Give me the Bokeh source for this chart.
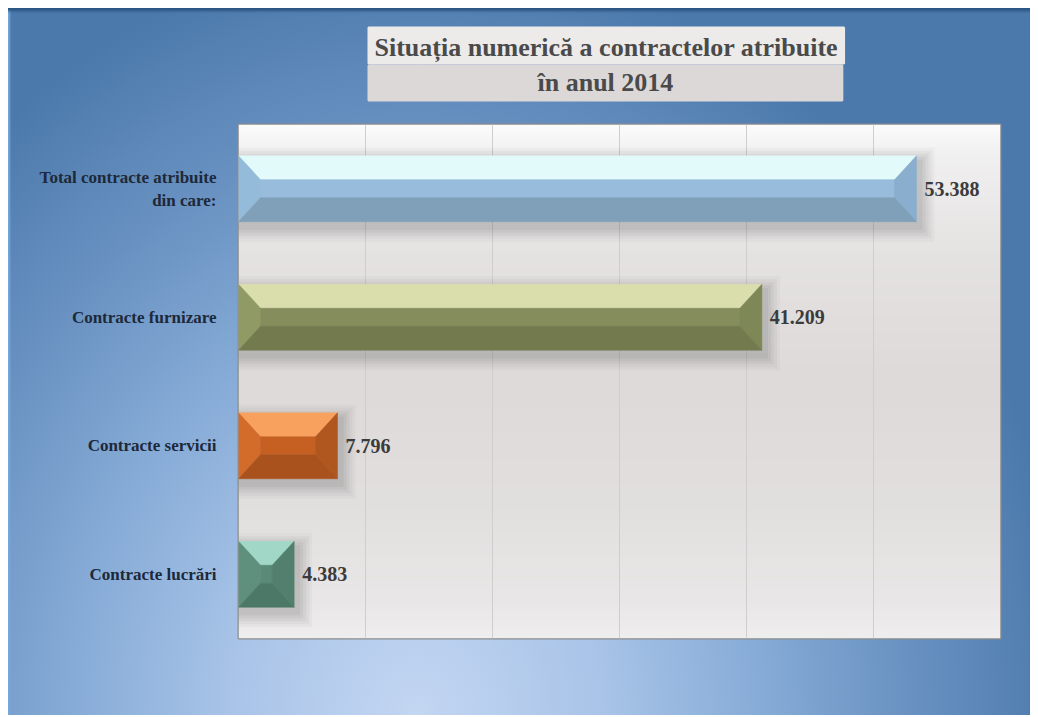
import numpy as np
from bokeh.plotting import figure
from bokeh.models import Range1d, FixedTicker, Title
from bokeh.embed import file_html
from bokeh.resources import INLINE
from bokeh.core.properties import value

# ---------------- data ----------------
categories = ["Total contracte atribuite\ndin care:", "Contracte furnizare",
              "Contracte servicii", "Contracte lucrări"]
counts = [53388, 41209, 7796, 4383]
title_lines = ["Situația numerică a contractelor atribuite", "în anul 2014"]
x_ticks = [0, 10000, 20000, 30000, 40000, 50000, 60000]

# bevel face colours per bar: top, left, front, right, bottom
face_colors = [
    ("#e3fafb", "#95bbdb", "#97bcdc", "#8aaecd", "#809fb8"),
    ("#d9deac", "#8f9a65", "#858d5c", "#7e8756", "#737a4e"),
    ("#f8a05e", "#d36b2b", "#c55f22", "#b0561f", "#aa521d"),
    ("#a0d7c7", "#5f8f7d", "#5a8a78", "#527f6e", "#4c7867"),
]

# ---------------- geometry (layout) ----------------
W, H = 1022, 707
BL, BR, BT, BB = 230, 30, 116, 77
FW, FH = W - BL - BR, H - BT - BB
XMAX = x_ticks[-1]
Y0, Y1 = 0.5, len(categories) + 0.5
ux = XMAX / FW            # data units per px (x)
uy = (Y1 - Y0) / FH       # data units per px (y)
bx, by, hh = 22 * ux, 24 * uy, 33 * uy

serif = "Liberation Serif"

p = figure(width=W, height=H, output_backend="svg", toolbar_location=None,
           title=None,
           x_range=Range1d(0, XMAX), y_range=Range1d(Y0, Y1),
           min_border_left=BL, min_border_right=BR,
           min_border_top=BT, min_border_bottom=BB)

p.border_fill_alpha = 0
p.styles = {
    "margin-left": "8px",
    "margin-top": "8px",
    "background": "radial-gradient(ellipse 64% 108% at 40% 100%, #c3d6f2 0%, #a9c4e8 28%, #87acd7 52%, #6891c1 76%, #4b79ab 100%)",
    "box-shadow": "inset 0 5px 3px -2px #2b5482, inset 4px 0 2px -2px #7aa9de",
}

# nearly invisible spacer between frame and title box
p.add_layout(Title(text=".", text_font_size="2px", text_color="#6f96c4",
                   text_alpha=0.02, standoff=21), "above")

# title: two stacked boxes (second line added first -> nearest the frame)
box_w = 475
line_w = [462, 136]
box_cols = ["#edeaea", "#dcd8d7"]
pads_tb = [(5, 2), (2, 4)]
for i in (1, 0):
    pad = max(0, (box_w - line_w[i]) // 2)
    t = Title(text=title_lines[i], align="left", offset=130,
              text_font=serif, text_font_style="bold", text_font_size="26px",
              text_color="#4a4a4a", background_fill_color=box_cols[i],
              border_line_color=box_cols[i], border_line_width=2,
              padding={"left": pad, "right": pad, "top": pads_tb[i][0],
                       "bottom": pads_tb[i][1]},
              standoff=0)
    p.add_layout(t, "above")

# frame background gradient
p.background_fill_color = "#e3e0df"
p.outline_line_color = "#8c8c8c"
p.outline_line_width = 2
stops_pos = [0.0, 0.06, 0.25, 0.5, 0.75, 0.93, 1.0]   # from top
stops_col = ["#fbfbfb", "#f1f0f0", "#e5e2e2", "#dedad9", "#e2dfdf", "#e9e7e7", "#efeeee"]
N = 200
tt = np.linspace(1, 0, N)  # row 0 = bottom
def _rgb(h):
    return [int(h[i:i + 2], 16) for i in (1, 3, 5)]
cols = np.array([_rgb(c) for c in stops_col], dtype=float)
img = np.zeros((N, 2), dtype=np.uint32)
view = img.view(dtype=np.uint8).reshape((N, 2, 4))
for k in range(3):
    ch = np.interp(tt, stops_pos, cols[:, k])
    view[:, :, k] = ch[:, None].astype(np.uint8)
view[:, :, 3] = 255
p.image_rgba(image=[img], x=0, y=Y0, dw=XMAX, dh=Y1 - Y0, level="image")

# grid / axes
p.xaxis.visible = False
p.xgrid.ticker = FixedTicker(ticks=x_ticks)
p.xgrid.grid_line_color = "#cfcdcd"
p.xgrid.grid_line_width = 1
p.ygrid.grid_line_color = None

ys = [len(categories) - i for i in range(len(categories))]
p.yaxis.ticker = FixedTicker(ticks=ys)
p.yaxis.major_label_overrides = {y: c for y, c in zip(ys, categories)}
p.yaxis.axis_line_color = None
p.yaxis.major_tick_line_color = None
p.yaxis.minor_tick_line_color = None
p.yaxis.major_label_standoff = 16
p.yaxis.major_label_text_font = serif
p.yaxis.major_label_text_font_style = "bold"
p.yaxis.major_label_text_font_size = "17px"
p.yaxis.major_label_text_color = "#1d2939"

# drop shadows
for e, a in [(12, 0.04), (9, 0.05), (6, 0.06), (3, 0.07), (0, 0.08)]:
    p.quad(left=[0 for _ in counts],
           right=[v + (6 + e) * ux for v in counts],
           top=[y + hh - (4 - e) * uy for y in ys],
           bottom=[y - hh - (8 + e) * uy for y in ys],
           fill_color="#555555", fill_alpha=a, line_color=None)

# bevelled bars
for v, y, fc in zip(counts, ys, face_colors):
    top_c, left_c, front_c, right_c, bot_c = fc
    ib = min(bx, v / 2.0)
    ot, ob = y + hh, y - hh
    it, ibt = ot - by, ob + by
    xl, xr = ib, v - ib
    faces_x = [
        [0, v, xr, xl],          # top
        [0, xl, xl, 0],          # left
        [xl, xr, xr, xl],        # front
        [v, xr, xr, v],          # right
        [0, v, xr, xl],          # bottom
    ]
    faces_y = [
        [ot, ot, it, it],
        [ot, it, ibt, ob],
        [it, it, ibt, ibt],
        [ot, it, ibt, ob],
        [ob, ob, ibt, ibt],
    ]
    fcs = [top_c, left_c, front_c, right_c, bot_c]
    p.patches(xs=faces_x, ys=faces_y, fill_color=fcs, line_color=fcs, line_width=0.5)

# value labels
labels = [f"{v:,}".replace(",", ".") for v in counts]
p.text(x=counts, y=ys, text=labels, x_offset=8, text_baseline="middle",
       text_font=value(serif), text_font_style="bold", text_font_size="20px",
       text_color="#3b3b3b")

open("out.html", "w").write(file_html(p, INLINE))
